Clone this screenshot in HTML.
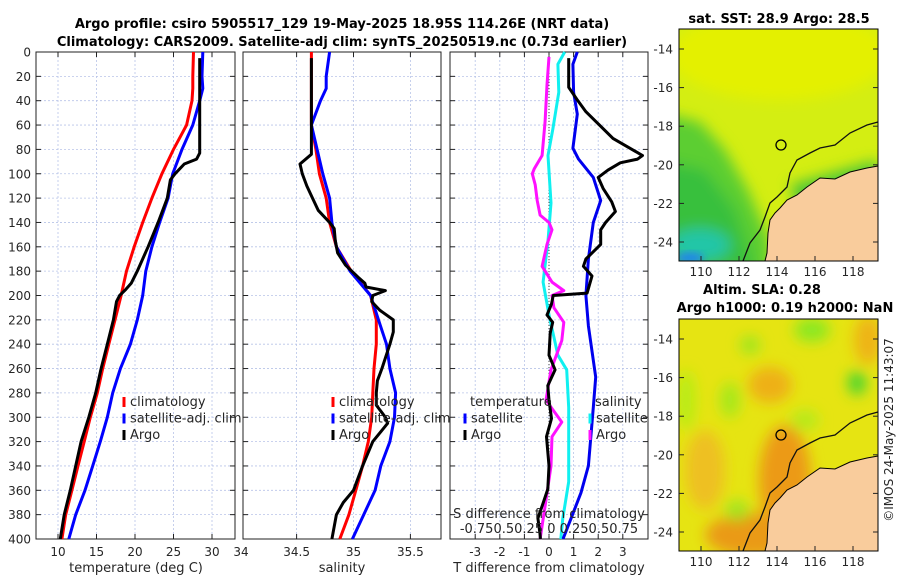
<!DOCTYPE html>
<html><head><meta charset="utf-8"><style>
html,body{margin:0;padding:0;background:#fff;}
svg{display:block;font-family:"DejaVu Sans","Liberation Sans",sans-serif;}
</style></head><body>
<svg id="fig" width="900" height="580" viewBox="0 0 900 580" xmlns="http://www.w3.org/2000/svg">
<defs>
<filter id="blur" x="-20%" y="-20%" width="140%" height="140%"><feGaussianBlur stdDeviation="7"/></filter>
<filter id="blur2" x="-20%" y="-20%" width="140%" height="140%"><feGaussianBlur stdDeviation="4"/></filter>
<clipPath id="cm1"><rect x="679" y="29" width="199" height="232"/></clipPath>
<clipPath id="cm2"><rect x="679" y="319" width="199" height="232"/></clipPath>
</defs>
<rect x="0" y="0" width="900" height="580" fill="#fff"/>
<text x="342" y="28" text-anchor="middle" font-size="13" font-weight="bold">Argo profile: csiro 5905517_129 19-May-2025 18.95S 114.26E (NRT data)</text>
<text x="342" y="46" text-anchor="middle" font-size="13" font-weight="bold">Climatology: CARS2009. Satellite-adj clim: synTS_20250519.nc (0.73d earlier)</text>

<!-- Map 1 SST -->
<g clip-path="url(#cm1)">
<rect x="679" y="29" width="199" height="232" fill="#d4ee12"/>
<g filter="url(#blur)">
<ellipse cx="780" cy="55" rx="110" ry="45" fill="#e4f000"/>
<polygon points="660,112 700,122 725,150 748,190 770,240 770,280 660,280" fill="#5cce30"/>
<polygon points="660,160 705,170 735,210 755,270 660,270" fill="#38c03c"/>
<ellipse cx="700" cy="245" rx="30" ry="16" fill="#20c6a8"/>
<polygon points="790,185 878,160 878,185 800,215" fill="#48c638"/>
</g>
<ellipse cx="690" cy="258" rx="14" ry="6" fill="#2088e8" filter="url(#blur2)"/>
</g>
<g>
<path id="land1" d="M878,166 L867,168 850,172 835,179 820,178 807,187 797,195 787,200 780,208 775,213 770,220 768,233 767,253 765,261 L878,261 Z" fill="#f9cc9c" stroke="#000" stroke-width="1"/>
<path d="M878,122 L867,125 850,133 835,145 820,148 810,153 797,160 790,173 787,187 777,197 770,203 765,217 760,230 750,243 743,261" fill="none" stroke="#111" stroke-width="1.3"/>
<circle cx="781" cy="145" r="5" fill="none" stroke="#000" stroke-width="1.3"/>
<rect x="679" y="29" width="199" height="232" fill="none" stroke="#000" stroke-width="1"/>
</g>
<text x="779" y="23" text-anchor="middle" font-size="13" font-weight="bold">sat. SST: 28.9 Argo: 28.5</text>

<!-- Map 2 SLA -->
<g clip-path="url(#cm2)">
<rect x="679" y="319" width="199" height="232" fill="#e6e412"/>
<g filter="url(#blur)">
<ellipse cx="785" cy="480" rx="26" ry="55" fill="#ec9a18"/>
<ellipse cx="755" cy="535" rx="50" ry="22" fill="#ea9a18"/>
<ellipse cx="705" cy="470" rx="20" ry="40" fill="#eec020"/>
<ellipse cx="770" cy="385" rx="22" ry="18" fill="#eeb018"/>
<ellipse cx="868" cy="340" rx="14" ry="25" fill="#eeb418"/>
<ellipse cx="857" cy="383" rx="9" ry="12" fill="#40d430"/>
<ellipse cx="812" cy="330" rx="18" ry="12" fill="#8ae820"/>
<ellipse cx="750" cy="345" rx="10" ry="9" fill="#98e620"/>
<ellipse cx="730" cy="400" rx="10" ry="18" fill="#a4e81e"/>
<ellipse cx="805" cy="420" rx="14" ry="10" fill="#b4ea1a"/>
<ellipse cx="737" cy="510" rx="12" ry="10" fill="#9ce620"/>
<ellipse cx="686" cy="400" rx="10" ry="30" fill="#b8ec18"/>
</g>
</g>
<g>
<use href="#land1" transform="translate(0,290)"/>
<path d="M878,122 L867,125 850,133 835,145 820,148 810,153 797,160 790,173 787,187 777,197 770,203 765,217 760,230 750,243 743,261" transform="translate(0,290)" fill="none" stroke="#111" stroke-width="1.3"/>
<circle cx="781" cy="435" r="5" fill="none" stroke="#000" stroke-width="1.3"/>
<rect x="679" y="319" width="199" height="232" fill="none" stroke="#000" stroke-width="1"/>
</g>
<text x="762" y="294" text-anchor="middle" font-size="13" font-weight="bold">Altim. SLA: 0.28</text>
<text x="785" y="312" text-anchor="middle" font-size="13" font-weight="bold">Argo h1000: 0.19 h2000: NaN</text>
<text transform="translate(893,430) rotate(-90)" text-anchor="middle" font-size="12" fill="#262626">©IMOS 24-May-2025 11:43:07</text>
<g id="layer"></g>
</svg>
<script>
// depth axis
const depthTicks = [0,20,40,60,80,100,120,140,160,180,200,220,240,260,280,300,320,340,360,380,400];
// temperature panel
const depthClim = [0,20,30,40,60,80,100,120,140,160,180,200,220,240,260,280,300,320,340,360,380,400];
const tempClim = [27.6,27.5,27.5,27.4,26.7,25.0,23.5,22.2,21.0,19.9,18.9,18.2,17.4,16.6,15.8,15.1,14.2,13.4,12.6,11.8,11.0,10.5];
const tempSat = [28.8,28.7,28.8,28.4,27.5,26.1,24.9,24.3,23.2,22.2,21.4,21.0,20.3,19.4,18.1,17.1,16.4,15.5,14.5,13.5,12.3,11.4];
const depthArgo = [5,20,40,60,83,88,92,100,105,120,140,160,180,190,195,200,205,220,240,260,280,300,320,340,360,380,400];
const tempArgo = [28.4,28.4,28.4,28.4,28.4,28.0,26.4,25.2,24.6,24.2,23.0,21.7,20.3,19.5,18.8,18.0,17.6,17.2,16.4,15.6,14.9,14.0,13.0,12.3,11.6,10.8,10.3];
const tempTicks = [10,15,20,25,30];
// salinity panel
const salClim = [34.63,34.63,34.63,34.63,34.63,34.67,34.70,34.76,34.79,34.85,34.98,35.15,35.20,35.20,35.18,35.17,35.16,35.13,35.08,35.02,34.96,34.88];
const salSat = [34.79,34.76,34.76,34.71,34.63,34.68,34.73,34.79,34.81,34.85,34.97,35.15,35.22,35.29,35.32,35.37,35.36,35.32,35.24,35.19,35.09,34.99];
const depthSalArgo = [5,84,92,100,110,120,130,140,145,155,165,175,185,190,193,196,200,205,212,220,230,240,260,270,280,290,300,305,320,340,360,370,380,400];
const salArgo = [34.63,34.63,34.53,34.55,34.59,34.64,34.69,34.79,34.83,34.84,34.86,34.93,35.04,35.10,35.11,35.28,35.17,35.16,35.23,35.35,35.35,35.32,35.25,35.21,35.20,35.20,35.28,35.30,35.17,35.08,35.00,34.91,34.85,34.81];
const salTicks = [34,34.5,35,35.5];
const salTickLabels = ["34","34.5","35","35.5"];
// difference panel
const depthDT = [5,29,39,49,71,85,88,91,97,103,112,123,131,140,146,158,170,176,184,198,200,207,216,222,231,249,261,274,286,301,316,340,359,371,383,395,400];
const dTArgo = [0.8,0.8,1.14,1.5,2.6,3.8,3.6,2.9,2.4,2.0,2.2,2.55,2.7,2.3,2.1,2.1,1.5,1.4,1.75,1.55,0.17,0.1,-0.08,0.15,0.05,0,0.25,-0.05,0,0.1,-0.1,0,-0.05,-0.25,-0.45,-0.37,-0.35];
const depthDTs = [0,10,33,51,79,88,103,122,140,170,200,225,267,292,340,362,383,400];
const dTSat = [1.15,0.97,1.0,1.15,0.97,1.2,1.8,2.1,1.8,1.6,1.5,1.6,1.9,1.8,1.6,1.3,0.9,0.57];
const depthDSs = [0,10,33,63,85,124,155,189,216,249,261,292,353,383,400];
const dSSat = [0.16,0.09,0.1,0.04,-0.01,0.02,-0.01,-0.06,0,0.09,0.18,0.2,0.2,0.14,0.12];
const depthDSa = [4,27,57,85,96,100,109,122,134,140,146,158,176,189,196,200,210,222,237,261,286,304,316,340,368,400];
const dSArgo = [0,-0.02,-0.04,-0.07,-0.15,-0.17,-0.14,-0.12,-0.09,0,0.03,-0.02,-0.07,0.03,0.15,0.03,0.05,0.15,0.13,0.02,-0.03,0.13,0.03,0.02,-0.03,-0.09];
const dTTicks = [-3,-2,-1,0,1,2,3];
// maps
const latTicks = [-14,-16,-18,-20,-22,-24];
const lonTicks = [110,112,114,116,118];

const NS='http://www.w3.org/2000/svg';
const L=document.getElementById('layer');
function mk(tag,attrs,parent){const e=document.createElementNS(NS,tag);for(const k in attrs)e.setAttribute(k,attrs[k]);(parent||L).appendChild(e);return e;}
const yD=d=>52+d*1.2175;
const xT=t=>58+(t-10)*7.7;
const xS=s=>353.5+(s-35)*113.8;
const xDT=v=>549+v*24.6;
const xDS=v=>549+v*98.4;
const panels=[[36,235],[243,441],[450,648]];
const Y0=52,Y1=539;
const grid='#b8c4e8';
panels.forEach((p,i)=>{
  depthTicks.forEach(d=>{const l=mk('line',{x1:p[0],x2:p[1],y1:yD(d),y2:yD(d),stroke:grid,'stroke-width':0.8,'stroke-dasharray':'2,2'});
    
    
    mk('line',{x1:p[0],x2:p[0]+5,y1:yD(d),y2:yD(d),stroke:'#222'});
    mk('line',{x1:p[1]-5,x2:p[1],y1:yD(d),y2:yD(d),stroke:'#222'});
  });
});
function vgrid(x,pi){mk('line',{x1:x,x2:x,y1:Y0,y2:Y1,stroke:grid,'stroke-width':0.8,'stroke-dasharray':'2,2'});
  mk('line',{x1:x,x2:x,y1:Y1-5,y2:Y1,stroke:'#222'});mk('line',{x1:x,x2:x,y1:Y0,y2:Y0+5,stroke:'#222'});}
function tlabel(x,y,s,name,anchor){const t=mk('text',{x:x,y:y,'text-anchor':anchor||'middle','font-size':12,fill:'#262626'});t.textContent=s;
  
  return t;}
tempTicks.forEach(v=>{vgrid(xT(v),0);tlabel(xT(v),556,String(v),'temperature-tick-label');});
salTicks.forEach((v,i)=>{if(i>0)vgrid(xS(v),1);tlabel(i==0?241:xS(v),556,salTickLabels[i],'salinity-tick-label');});
dTTicks.forEach(v=>{vgrid(xDT(v),2);tlabel(xDT(v),556,String(v),'t-diff-tick-label');});
mk('line',{x1:xDT(0),x2:xDT(0),y1:Y0,y2:Y1,stroke:'#444','stroke-width':1,'stroke-dasharray':'1,2'});
depthTicks.forEach(d=>tlabel(31,yD(d)+4.5,String(d),'depth-tick-label','end'));
panels.forEach((p,i)=>{const r=mk('rect',{x:p[0],y:Y0,width:p[1]-p[0],height:Y1-Y0,fill:'none',stroke:'#222','stroke-width':1});
  
  });
function line(xs,ds,fx,color,name){let d='';xs.forEach((v,i)=>{d+=(i?'L':'M')+fx(v).toFixed(1)+','+yD(ds[i]).toFixed(1);});
  const p=mk('path',{d:d,fill:'none',stroke:color,'stroke-width':3,'stroke-linejoin':'round'});
  
  }
line(tempClim,depthClim,xT,'#ff0000','temp-climatology-line');
line(tempSat,depthClim,xT,'#0000ff','temp-satellite-line');
line(tempArgo,depthArgo,xT,'#000000','temp-argo-line');
line(salClim,depthClim,xS,'#ff0000','sal-climatology-line');
line(salSat,depthClim,xS,'#0000ff','sal-satellite-line');
line(salArgo,depthSalArgo,xS,'#000000','sal-argo-line');
line(dSSat,depthDSs,xDS,'#10f0f0','sdiff-satellite-line');
line(dTSat,depthDTs,xDT,'#0000ee','tdiff-satellite-line');
line(dSArgo,depthDSa,xDS,'#ff10ff','sdiff-argo-line');
line(dTArgo,depthDT,xDT,'#000000','tdiff-argo-line');
function leg(x,y,color,label,name){mk('line',{x1:x,x2:x,y1:y-9,y2:y+1,stroke:color,'stroke-width':3});
  const t=mk('text',{x:x+6,y:y,'font-size':13,fill:'#262626'});t.textContent=label;
  
  }
[[0,'#ff0000','climatology'],[1,'#0000ff','satellite-adj. clim'],[2,'#000','Argo']].forEach(a=>{
  leg(124,406+a[0]*16.5,a[1],a[2],'temp-legend-entry');leg(333,406+a[0]*16.5,a[1],a[2],'sal-legend-entry');});
tlabel(470,406,'temperature','diff-legend-temperature-header','start').setAttribute('font-size',13);
tlabel(595,406,'salinity','diff-legend-salinity-header','start').setAttribute('font-size',13);
leg(465,422.5,'#0000ff','satellite','diff-legend-entry');leg(465,439,'#000','Argo','diff-legend-entry');
leg(590,422.5,'#10f0f0','satellite','diff-legend-entry');leg(590,439,'#ff10ff','Argo','diff-legend-entry');
tlabel(549,518,'S difference from climatology','s-diff-axis-title').setAttribute('font-size',13);
tlabel(549,533,'-0.750.50.25 0 0.250.50.75','s-diff-tick-labels').setAttribute('font-size',13);
tlabel(136,572,'temperature (deg C)','temperature-axis-title').setAttribute('font-size',13);
tlabel(342,572,'salinity','salinity-axis-title').setAttribute('font-size',13);
tlabel(549,572,'T difference from climatology','t-diff-axis-title').setAttribute('font-size',13);
const yLat1=lat=>49+(-14-lat)*19.3;
const xLon=lon=>701+(lon-110)*19;
[0,290].forEach((off,mi)=>{
  latTicks.forEach(la=>{const y=yLat1(la)+off;tlabel(673,y+4.5,String(la),'map-lat-label','end');
    mk('line',{x1:679,x2:684,y1:y,y2:y,stroke:'#222'});mk('line',{x1:873,x2:878,y1:y,y2:y,stroke:'#222'});});
  lonTicks.forEach(lo=>{const x=xLon(lo);tlabel(x,(mi?566:276),String(lo),'map-lon-label');
    mk('line',{x1:x,x2:x,y1:261+off-5,y2:261+off,stroke:'#222'});});
});
</script>
</body></html>
